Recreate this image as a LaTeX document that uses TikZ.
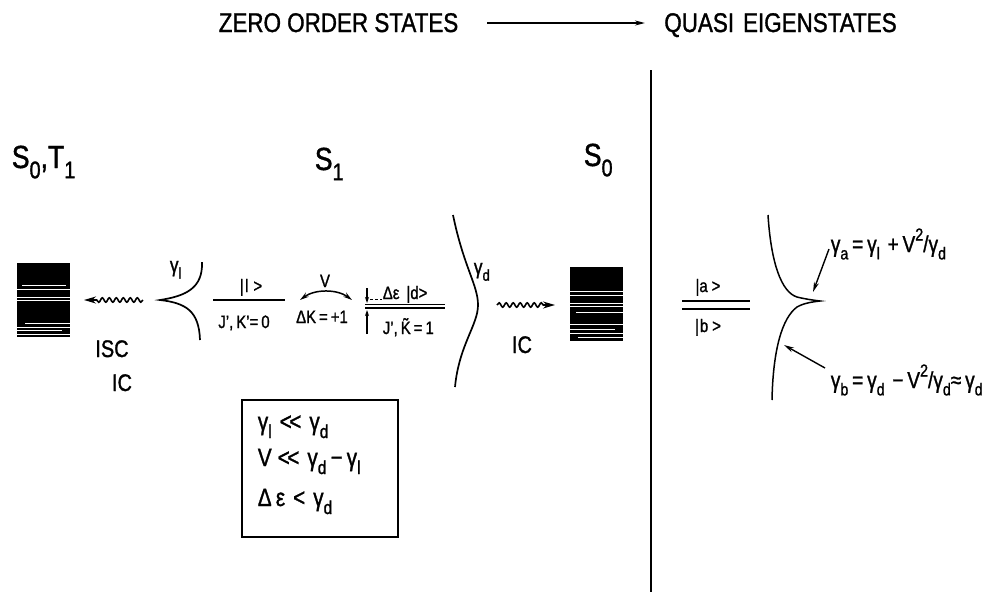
\documentclass[tikz,border=0pt]{standalone}
\usepackage{graphicx}
\usepackage{fontspec}
\setmainfont{Liberation Sans}[FakeStretch=0.83,FakeBold=1.2]
\usetikzlibrary{arrows.meta,decorations.pathmorphing}
\newcommand{\sub}[1]{\raisebox{-0.32em}{\scalebox{0.75}{#1}}}
\newcommand{\supr}[1]{\raisebox{0.5em}{\scalebox{0.75}{#1}}}
\newcommand{\muchless}{<\kern-2.5pt<}
\tikzset{
  lbl/.style={inner sep=0pt, anchor=base},
  lblw/.style={inner sep=0pt, anchor=base west},
  ttl/.style={lbl, font=\fontsize{27}{30}\selectfont},
  statelbl/.style={lblw, font=\fontsize{32}{34}\selectfont},
  proc/.style={lbl, font=\fontsize{24}{26}\selectfont},
  lvl/.style={lbl, font=\fontsize{18}{20}\selectfont},
  gam/.style={lblw, font=\fontsize{21}{23}\selectfont},
  cond/.style={lblw, font=\fontsize{25}{27}\selectfont},
  form/.style={lblw, font=\fontsize{23}{25}\selectfont},
  block/.style={fill=black, draw=none, inner sep=0pt, minimum width=53pt, minimum height=74pt},
  tip/.style={-{Stealth[length=10pt,width=5pt]}},
  wavy/.style={decorate, decoration={snake, amplitude=2.2pt, segment length=7pt, post length=11pt}, -{Stealth[length=12pt,width=7pt]}},
}
\begin{document}
\begin{tikzpicture}[x=1pt, y=-1pt, line width=1.7pt]
\useasboundingbox (0,0) rectangle (994,592);

% title
\node[ttl] (zos) at (338.5,32) {ZERO ORDER STATES};
\node[ttl] (qes) at (780.5,32) {QUASI\,\,EIGENSTATES};
\coordinate (ta) at (487,23);
\coordinate (tb) at (645,23);
\draw[line width=1.5pt, tip] (ta) -- (tb);

% divider
\coordinate (v1) at (651,70);
\coordinate (v2) at (651,592);
\draw[line width=1.7pt] (v1) -- (v2);

% state labels
\node[statelbl] (s0t1) at (11,168) {S\sub{0},T\sub{1}};
\node[statelbl] (s1) at (314,170) {S\sub{1}};
\node[statelbl] (s0) at (583,166) {S\sub{0}};

% blocks
\node[block] (lb) at (43.5,300) {};
\node[block] (rb) at (596.5,303.5) {};
\foreach \yy/\xa/\xb in {285/22/66, 289/17/70, 297.5/17/70, 300.5/17/70, 323/25/70, 327/17/70, 330.5/17/62, 334/17/70}
  \draw[white, line width=0.5pt] (\xa,\yy) -- (\xb,\yy);
\foreach \yy/\xa/\xb in {291/570/623, 295/570/623, 303/570/623, 306.5/570/623, 312/576/623, 324/570/623, 329/570/615, 333/570/623, 337/578/623}
  \draw[white, line width=0.5pt] (\xa,\yy) -- (\xb,\yy);

% wavy arrows
\coordinate (wl) at (143,300);
\coordinate (wlt) at (84,300);
\draw[wavy, line width=1.6pt] (wl) -- (wlt);
\coordinate (wr) at (497,305);
\coordinate (wrt) at (555,305);
\draw[wavy, line width=1.6pt] (wr) -- (wrt);
\node[proc] (isc) at (112,357) {ISC};
\node[proc] (icl) at (122,391) {IC};
\node[proc] (icr) at (522,353) {IC};

% gamma_l curve
\draw (202,262) .. controls (203,288) and (186,296) .. (160,300)
      .. controls (186,303) and (199,311) .. (200,340);
\node[gam] (gl) at (169,272) {γ\sub{l}};

% |l> level
\coordinate (l1) at (213,300);
\coordinate (l2) at (285,300);
\draw[line width=2pt] (l1) -- (l2);
\node[lvl] (ket1) at (251,292) {|\hspace{1.5pt}l\hspace{5pt}>};
\node[lvl] (jk0) at (244,328) {J',\,K'=\,0};

% coupling V
\coordinate (va) at (300,300);
\coordinate (vb) at (352,300);
\draw[line width=1.5pt, {Stealth[length=9pt,width=5pt]}-{Stealth[length=9pt,width=5pt]}] (va) .. controls (315,289) and (337,289) .. (vb);
\node[lvl] (vlab) at (325,287) {V};
\node[lvl] (dk) at (322,323) {ΔK\,=\,+1};

% |d> level
\coordinate (d1) at (365,304.5);
\coordinate (d2) at (445,304.5);
\coordinate (d3) at (365,308);
\coordinate (d4) at (445,308);
\draw (d1) -- (d2);
\draw (d3) -- (d4);
\coordinate (ea1) at (367,288);
\coordinate (ea2) at (367,303);
\draw[line width=1.2pt, -{Stealth[length=6pt,width=4pt]}] (ea1) -- (ea2);
\coordinate (eb1) at (367,334);
\coordinate (eb2) at (367,310);
\draw[line width=1.2pt, -{Stealth[length=6pt,width=4pt]}] (eb1) -- (eb2);
\coordinate (ed1) at (370,299.5);
\coordinate (ed2) at (382,299.5);
\draw[line width=1.2pt, dash pattern=on 3pt off 2pt] (ed1) -- (ed2);
\node[lblw, font=\fontsize{18}{20}\selectfont] (ket2) at (382,299) {Δε\hspace{7pt}|d>};
\node[lblw, font=\fontsize{18}{20}\selectfont] (jk1) at (382,334) {J',\,\~{K}\,=\,1};

% gamma_d curve
\draw (453,215) .. controls (464,268) and (478,285) .. (478,305)
      .. controls (478,325) and (459,345) .. (455,387);
\node[gam] (gd) at (473,274) {γ\sub{d}};

% conditions box
\coordinate (bx1) at (242,400);
\coordinate (bx2) at (398,537);
\draw[line width=1.7pt] (bx1) rectangle (bx2);
\node[cond] (c1) at (257,430) {γ\sub{l}\hspace{8pt}\muchless\hspace{8pt}γ\sub{d}};
\node[cond] (c2) at (257,466) {V\hspace{6pt}\muchless\hspace{8pt}γ\sub{d}\,−\hspace{4pt}γ\sub{l}};
\node[cond] (c3) at (257,506) {Δ\,ε\hspace{8pt}<\hspace{8pt}γ\sub{d}};

% quasi eigenstates
\node[lvl] (keta) at (708,292) {|a\hspace{4pt}>};
\node[lvl] (ketb) at (708,332) {|\hspace{1pt}b\hspace{4pt}>};
\coordinate (qa1) at (682,301);
\coordinate (qa2) at (750,301);
\coordinate (qb1) at (682,309);
\coordinate (qb2) at (750,309);
\draw[line width=2pt] (qa1) -- (qa2);
\draw[line width=2pt] (qb1) -- (qb2);

\draw[line width=1.5pt] (768,215) .. controls (771,262) and (781,292) .. (797,297)
   .. controls (805,299) and (812,300) .. (820,301)
   .. controls (812,302) and (804,303) .. (797,307)
   .. controls (782,318) and (773,350) .. (772,400);

\coordinate (pa1) at (829,249);
\coordinate (pa2) at (813,292);
\draw[line width=1.4pt, tip] (pa1) -- (pa2);
\coordinate (pb1) at (825,368);
\coordinate (pb2) at (784,345);
\draw[line width=1.4pt, tip] (pb1) -- (pb2);
\node[form] (fa) at (830,252) {γ\sub{a}\,=\,γ\sub{l}\,\,+\,V\supr{2}/γ\sub{d}};
\node[form] (fb) at (830,388) {γ\sub{b}\,=\,γ\sub{d}\,\,−\,V\supr{2}/γ\sub{d}≈\,γ\sub{d}};
\end{tikzpicture}
\end{document}
